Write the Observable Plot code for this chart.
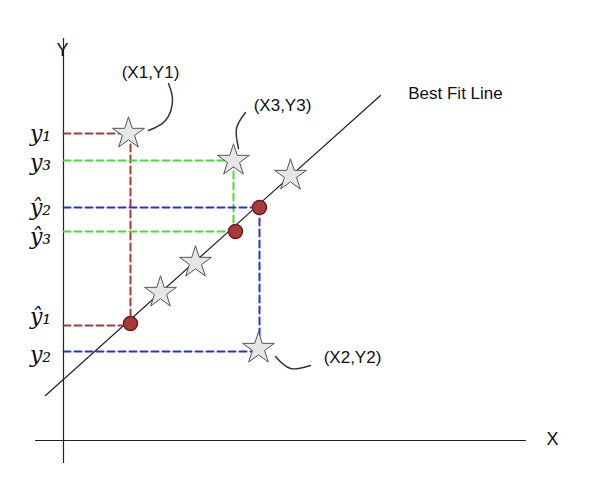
<!DOCTYPE html>
<html><head><meta charset="UTF-8">
<script src="https://cdn.jsdelivr.net/npm/d3@7"></script>
<script src="https://cdn.jsdelivr.net/npm/@observablehq/plot@0.6"></script>
<style>body{margin:0;background:#fff}</style>
</head><body><div id="chart"></div>
<script>
// diagram coordinates (pixel-like units, y downward)
const fitLine = [{x: 45, y: 395}, {x: 380, y: 95}];
const stars = [
  {x: 128, y: 133}, {x: 233, y: 160}, {x: 258, y: 348},
  {x: 290, y: 175}, {x: 195, y: 262}, {x: 160, y: 292}
];
const predicted = [{x: 130, y: 323}, {x: 235, y: 231}, {x: 259, y: 207}];
const guides = [
  {c: "#a33a3a", pts: [[63,133],[128,133]]},
  {c: "#a33a3a", pts: [[130,133],[130,323]]},
  {c: "#a33a3a", pts: [[63,325],[130,325]]},
  {c: "#44dd33", pts: [[63,160],[233,160]]},
  {c: "#44dd33", pts: [[233,160],[233,231]]},
  {c: "#44dd33", pts: [[63,231],[235,231]]},
  {c: "#2233dd", pts: [[63,207],[259,207]]},
  {c: "#2233dd", pts: [[259,207],[259,348]]},
  {c: "#2233dd", pts: [[63,351],[258,351]]}
];
const yLabels = [
  {y: 133, t: "y₁"}, {y: 162, t: "y₃"}, {y: 207, t: "ŷ₂"},
  {y: 236, t: "ŷ₃"}, {y: 316, t: "ŷ₁"}, {y: 354, t: "y₂"}
];
const pointLabels = [
  {x: 150, y: 72, t: "(X1,Y1)"}, {x: 282, y: 105, t: "(X3,Y3)"},
  {x: 352, y: 357, t: "(X2,Y2)"}, {x: 455, y: 93, t: "Best Fit Line"}
];
const callouts = [
  [[168,83],[172,100],[165,120],[148,130]],
  [[245,112],[236,128],[238,148]],
  [[310,365],[290,368],[275,356]]
];

const guideRows = guides.flatMap((g, i) => g.pts.map(p => ({x: p[0], y: p[1], i, c: g.c})));
const calloutRows = callouts.flatMap((c, i) => c.map(p => ({x: p[0], y: p[1], i})));

const plot = Plot.plot({
  width: 598, height: 500, margin: 0,
  x: {domain: [0, 598], axis: null},
  y: {domain: [500, 0], axis: null},
  style: {fontFamily: "Liberation Sans, sans-serif", background: "#fff"},
  marks: [
    Plot.line([{x: 63, y: 38}, {x: 63, y: 462}], {x: "x", y: "y", stroke: "#222", strokeWidth: 1.2}),
    Plot.line([{x: 35, y: 440}, {x: 525, y: 440}], {x: "x", y: "y", stroke: "#222", strokeWidth: 1.2}),
    Plot.line(fitLine, {x: "x", y: "y", stroke: "#222", strokeWidth: 1.2}),
    Plot.line(guideRows, {x: "x", y: "y", z: "i", stroke: "c", strokeWidth: 2, strokeDasharray: "7,4"}),
    Plot.line(calloutRows, {x: "x", y: "y", z: "i", stroke: "#333", curve: "natural"}),
    Plot.dot(stars, {x: "x", y: "y", symbol: "star", r: 10, fill: "#e4e6e8", stroke: "#555", strokeWidth: 1}),
    Plot.dot(predicted, {x: "x", y: "y", r: 7, fill: "#a83a3a", stroke: "#6a2020"}),
    Plot.text(yLabels, {x: 40, y: "y", text: "t", fontSize: 22, fontStyle: "italic", fontFamily: "DejaVu Serif, serif", fill: "#111"}),
    Plot.text(pointLabels, {x: "x", y: "y", text: "t", fontSize: 17, fill: "#111"}),
    Plot.text([{x: 62, y: 46, t: "Y"}, {x: 552, y: 435, t: "X"}], {x: "x", y: "y", text: "t", fontSize: 18, fill: "#111", dy: 4})
  ]
});
document.querySelector("#chart").append(plot);
</script>
</body></html>
